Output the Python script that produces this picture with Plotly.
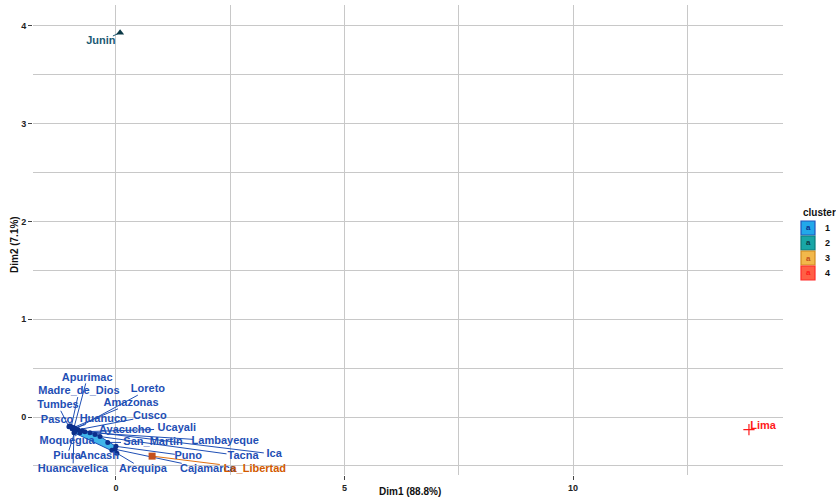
import plotly.graph_objects as go
import numpy as np

# ---------------- data ----------------
regions = ["Amazonas", "Ancash", "Apurimac", "Arequipa", "Ayacucho", "Cajamarca", "Cusco",
           "Huancavelica", "Huanuco", "Ica", "Junin", "La_Libertad", "Lambayeque", "Lima",
           "Loreto", "Madre_de_Dios", "Moquegua", "Pasco", "Piura", "Puno", "San_Martin",
           "Tacna", "Tumbes", "Ucayali"]
dim1 = [-0.94, -0.09, -0.92, 0.02, -0.46, -0.02, -0.83,
        -0.92, -0.96, -0.74, 0.09, 0.79, -0.57, 13.85,
        -0.88, -0.98, -0.79, -1.01, -0.90, 0.00, -0.18,
        -0.35, -1.03, -0.68]
dim2 = [-0.11, -0.34, -0.11, -0.37, -0.18, -0.33, -0.13,
        -0.16, -0.12, -0.14, 3.93, -0.40, -0.16, -0.13,
        -0.12, -0.10, -0.16, -0.09, -0.15, -0.30, -0.26,
        -0.20, -0.10, -0.15]
cluster = [1, 1, 1, 1, 1, 1, 1,
           1, 1, 1, 2, 3, 1, 4,
           1, 1, 1, 1, 1, 1, 1,
           1, 1, 1]
# repelled label positions (data units)
label_x = [0.33, -0.37, -0.63, 0.59, 0.20, 2.01, 0.74,
           -0.94, -0.28, 3.46, -0.33, 3.04, 2.39, 14.16,
           0.70, -0.81, -1.07, -1.29, -1.07, 1.58, 0.81,
           2.78, -1.27, 1.33]
label_y = [0.14, -0.40, 0.40, -0.53, -0.14, -0.53, 0.01,
           -0.53, -0.02, -0.38, 3.84, -0.53, -0.25, -0.09,
           0.28, 0.26, -0.25, -0.03, -0.40, -0.40, -0.26,
           -0.40, 0.12, -0.12]
cluster_names = ["1", "2", "3", "4"]
x_title = "Dim1 (88.8%)"
y_title = "Dim2 (7.1%)"

# ---------------- styles ----------------
pt_color = {1: "#0b2f8c", 2: "#0b3946", 3: "#c4501c", 4: "#ff1a1a"}
txt_color = {1: "#1f4fb5", 2: "#1d5a74", 3: "#d25a00", 4: "#ff1a1a"}
seg_color = {1: "#1f4fb5", 2: "#1d5a74", 3: "#e07010", 4: "#ff1a1a"}
symbols = {1: "circle", 2: "triangle-up", 3: "square", 4: "cross-thin-open"}
legend_fill = {1: "#22a8ea", 2: "#18a6a6", 3: "#f2b84b", 4: "#ff6045"}
legend_line = {1: "#2255bb", 2: "#0e7a7a", 3: "#d08a20", 4: "#ff2a2a"}

W, H = 836, 497
ml, mr, mt, mb = 33, 53, 5, 22
xr = [-1.816, 14.595]
yr = [-0.593, 4.213]
pw, ph = W - ml - mr, H - mt - mb
sx = pw / (xr[1] - xr[0])
sy = ph / (yr[1] - yr[0])

fig = go.Figure()

# hull for cluster 1
def convex_hull(pts):
    pts = sorted(set(pts))
    def cross(o, a, b):
        return (a[0]-o[0])*(b[1]-o[1]) - (a[1]-o[1])*(b[0]-o[0])
    lower, upper = [], []
    for p in pts:
        while len(lower) >= 2 and cross(lower[-2], lower[-1], p) <= 0:
            lower.pop()
        lower.append(p)
    for p in reversed(pts):
        while len(upper) >= 2 and cross(upper[-2], upper[-1], p) <= 0:
            upper.pop()
        upper.append(p)
    return lower[:-1] + upper[:-1]

c1 = [(dim1[i], dim2[i]) for i in range(len(regions)) if cluster[i] == 1]
hull = convex_hull(c1)
hx = [p[0] for p in hull] + [hull[0][0]]
hy = [p[1] for p in hull] + [hull[0][1]]
fig.add_trace(go.Scatter(x=hx, y=hy, mode="lines", fill="toself",
                         fillcolor="rgba(30,168,230,0.85)",
                         line=dict(color="#1f4fb5", width=1), hoverinfo="skip",
                         showlegend=False))

# segments from points to label box edges
def seg_end(px, py, lx, ly, text):
    hw = len(text) * 3.1 + 1
    hh = 5.5
    dx = (px - lx) * sx
    dy = (py - ly) * sy
    if abs(dx) <= hw and abs(dy) <= hh:
        return None
    t = 1.0
    if dx != 0:
        t = min(t, hw / abs(dx))
    if dy != 0:
        t = min(t, hh / abs(dy))
    return lx + dx * t / sx, ly + dy * t / sy

for c in [1, 2, 3, 4]:
    xs, ys = [], []
    for i in range(len(regions)):
        if cluster[i] != c:
            continue
        e = seg_end(dim1[i], dim2[i], label_x[i], label_y[i], regions[i])
        if e is None:
            continue
        xs += [dim1[i], e[0], None]
        ys += [dim2[i], e[1], None]
    if xs:
        fig.add_trace(go.Scatter(x=xs, y=ys, mode="lines",
                                 line=dict(color=seg_color[c], width=1),
                                 hoverinfo="skip", showlegend=False))

# points
for c in [1, 2, 3, 4]:
    idx = [i for i in range(len(regions)) if cluster[i] == c]
    fig.add_trace(go.Scatter(
        x=[dim1[i] for i in idx], y=[dim2[i] for i in idx], mode="markers",
        marker=dict(symbol=symbols[c], size=5 if c == 1 else (7 if c != 4 else 8), color=pt_color[c],
                    line=dict(color=pt_color[c], width=1.2 if c == 4 else 0)),
        showlegend=False, hoverinfo="text", text=[regions[i] for i in idx]))

# labels
for c in [1, 2, 3, 4]:
    idx = [i for i in range(len(regions)) if cluster[i] == c]
    fig.add_trace(go.Scatter(
        x=[label_x[i] for i in idx], y=[label_y[i] for i in idx], mode="text",
        text=[regions[i] for i in idx], textposition="middle center",
        textfont=dict(family="Liberation Sans", size=11, color=txt_color[c], weight=700),
        showlegend=False, hoverinfo="skip"))

# custom legend (ggplot style) and axis titles
def paper_x(px):
    return (px - ml) / pw
def paper_y(py):
    return (H - mb - py) / ph

shapes = []
annotations = []
annotations.append(dict(x=paper_x(801), y=paper_y(212), xref="paper", yref="paper",
                        text="cluster", showarrow=False, xanchor="left", yanchor="middle",
                        font=dict(family="Liberation Sans", size=10, color="#111111", weight=700)))
for k, c in enumerate([1, 2, 3, 4]):
    top = 221 + k * 15
    shapes.append(dict(type="rect", xref="paper", yref="paper",
                       x0=paper_x(801), x1=paper_x(815), y0=paper_y(top + 14), y1=paper_y(top),
                       fillcolor=legend_fill[c], line=dict(color=legend_line[c], width=1.2)))
    annotations.append(dict(x=paper_x(808), y=paper_y(top + 7), xref="paper", yref="paper",
                            text="a", showarrow=False, xanchor="center", yanchor="middle",
                            font=dict(family="Liberation Sans", size=8, color=pt_color[c], weight=700)))
    annotations.append(dict(x=paper_x(823), y=paper_y(top + 7), xref="paper", yref="paper",
                            text=cluster_names[k], showarrow=False, xanchor="left", yanchor="middle",
                            font=dict(family="Liberation Sans", size=9, color="#111111", weight=700)))
annotations.append(dict(x=paper_x(410), y=paper_y(491), xref="paper", yref="paper",
                        text=x_title, showarrow=False, xanchor="center", yanchor="middle",
                        font=dict(family="Liberation Sans", size=10, color="#111111", weight=700)))
annotations.append(dict(x=paper_x(14), y=paper_y(245), xref="paper", yref="paper",
                        text=y_title, showarrow=False, xanchor="center", yanchor="middle",
                        textangle=-90,
                        font=dict(family="Liberation Sans", size=10, color="#111111", weight=700)))

fig.update_layout(
    width=W, height=H,
    margin=dict(l=ml, r=mr, t=mt, b=mb, autoexpand=False),
    plot_bgcolor="white", paper_bgcolor="white",
    showlegend=False,
    shapes=shapes, annotations=annotations,
    xaxis=dict(range=xr, tickvals=[0, 5, 10], ticktext=["0", "5", "10"], automargin=False,
               showgrid=True, gridcolor="#c8c8c8", gridwidth=1,
               minor=dict(tickvals=[2.5, 7.5, 12.5], showgrid=True, gridcolor="#c8c8c8", gridwidth=1),
               zeroline=False, showline=False,
               ticks="outside", ticklen=4, tickcolor="#444444", tickwidth=1,
               tickfont=dict(family="Liberation Sans", size=9, color="#222222", weight=700)),
    yaxis=dict(range=yr, tickvals=[0, 1, 2, 3, 4], ticktext=["0", "1", "2", "3", "4"], automargin=False,
               showgrid=True, gridcolor="#c8c8c8", gridwidth=1,
               minor=dict(tickvals=[-0.5, 0.5, 1.5, 2.5, 3.5], showgrid=True, gridcolor="#c8c8c8", gridwidth=1),
               zeroline=False, showline=False,
               ticks="outside", ticklen=4, tickcolor="#444444", tickwidth=1,
               tickfont=dict(family="Liberation Sans", size=9, color="#222222", weight=700)),
)

fig.write_html("out.html", config={"displayModeBar": False},
               post_script="document.body.style.margin='0';document.body.style.overflow='hidden';")
